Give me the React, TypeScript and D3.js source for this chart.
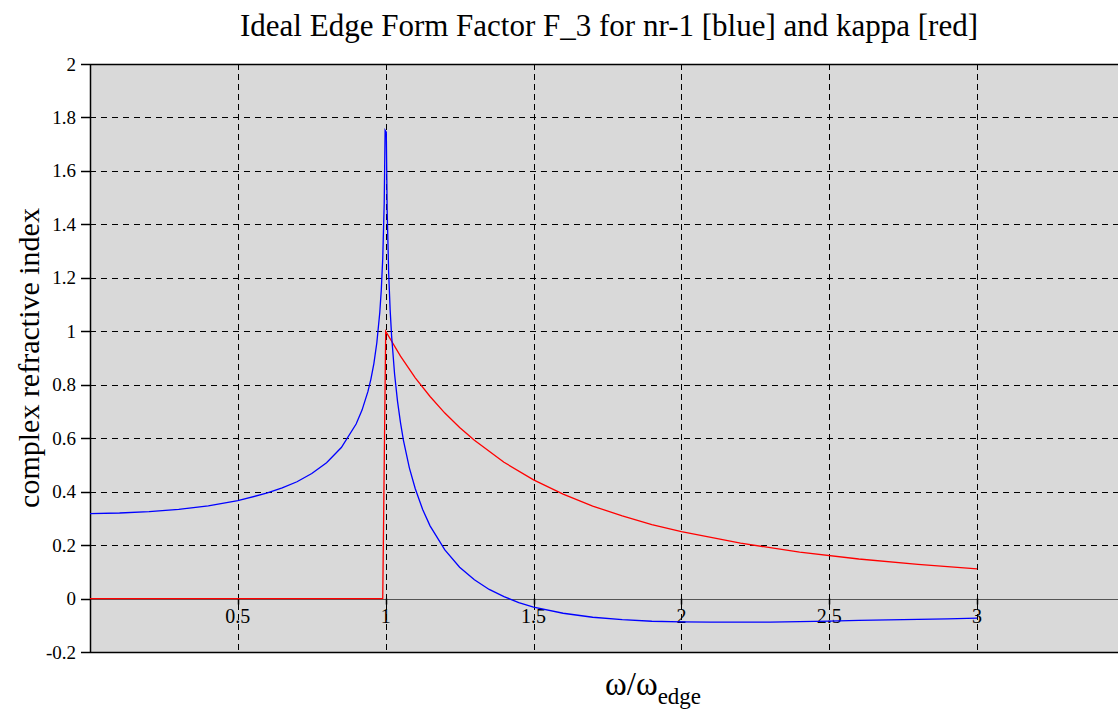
import React from "react";
import * as d3 from "d3";

const title = "Ideal Edge Form Factor F_3 for nr-1 [blue] and kappa [red]";
const yLabel = "complex refractive index";
const xTicks = [0.5, 1, 1.5, 2, 2.5, 3];
const xTickLabels = ["0.5", "1", "1.5", "2", "2.5", "3"];
const yTicks = [-0.2, 0, 0.2, 0.4, 0.6, 0.8, 1, 1.2, 1.4, 1.6, 1.8, 2];
const yTickLabels = ["-0.2", "0", "0.2", "0.4", "0.6", "0.8", "1", "1.2", "1.4", "1.6", "1.8", "2"];

// nr-1 (blue)
const blueX = [0, 0.1, 0.2, 0.3, 0.4, 0.5, 0.6, 0.65, 0.7, 0.75, 0.8, 0.85, 0.9, 0.92, 0.94, 0.95, 0.96, 0.97, 0.98, 0.985, 0.99, 0.995, 0.998,
  1.002, 1.005, 1.01, 1.015, 1.02, 1.03, 1.04, 1.05, 1.06, 1.08, 1.1, 1.125, 1.15, 1.2, 1.25, 1.3, 1.35, 1.4, 1.45, 1.5, 1.6, 1.7, 1.8, 1.9,
  2.0, 2.1, 2.2, 2.3, 2.4, 2.5, 2.6, 2.7, 2.8, 2.9, 3.0];
const blueY = [0.318, 0.320, 0.325, 0.334, 0.347, 0.366, 0.395, 0.414, 0.437, 0.468, 0.508, 0.565, 0.653, 0.705, 0.775, 0.821, 0.879, 0.957, 1.07, 1.153, 1.272, 1.48, 1.752,
  1.745, 1.45, 1.219, 1.081, 0.982, 0.840, 0.738, 0.658, 0.592, 0.489, 0.411, 0.333, 0.272, 0.182, 0.117, 0.070, 0.034, 0.007, -0.015, -0.032, -0.055, -0.070, -0.079, -0.085,
  -0.087, -0.0885, -0.0885, -0.088, -0.086, -0.0845, -0.082, -0.080, -0.078, -0.076, -0.0735];

// kappa (red)
const redX = [0, 0.5, 0.99, 1.0, 1.05, 1.1, 1.15, 1.2, 1.25, 1.3, 1.4, 1.5, 1.6, 1.7, 1.8, 1.9, 2.0, 2.2, 2.4, 2.6, 2.8, 3.0];
const redY = [0, 0, 0, 1.0, 0.907, 0.826, 0.756, 0.694, 0.64, 0.592, 0.510, 0.444, 0.391, 0.346, 0.309, 0.277, 0.25, 0.207, 0.174, 0.148, 0.128, 0.111];

const W = 1118, H = 711;
const L = 90, R = 1118, T = 64, B = 652;
const FONT = '"Liberation Serif", "DejaVu Serif", serif';

export default function App() {
  const x = d3.scaleLinear().domain([0, 3.4765]).range([L, R]);
  const y = d3.scaleLinear().domain([-0.2, 2]).range([B, T]);
  const line = d3.line<[number, number]>().x(d => x(d[0])).y(d => y(d[1]));
  const bluePts = blueX.map((v, i) => [v, blueY[i]] as [number, number]);
  const redPts = redX.map((v, i) => [v, redY[i]] as [number, number]);
  const ts = { fontFamily: FONT };

  return (
    <svg width={W} height={H} style={{ position: "absolute", left: 0, top: 0, background: "#fff", fontFamily: FONT }}>
      <rect x={L} y={T} width={R - L} height={B - T} fill="#d9d9d9" />
      {/* horizontal grid */}
      {yTicks.filter(t => t > -0.2 && t < 2).map(t => (
        <line key={"hg" + t} x1={L} x2={R} y1={Math.round(y(t)) + 0.5} y2={Math.round(y(t)) + 0.5} stroke="#000" strokeDasharray="6,5" strokeWidth={1} />
      ))}
      {/* vertical grid */}
      {xTicks.map(t => (
        <line key={"vg" + t} x1={Math.round(x(t)) + 0.5} x2={Math.round(x(t)) + 0.5} y1={T} y2={B} stroke="#000" strokeDasharray="6,4" strokeWidth={1} />
      ))}
      {/* zero axis */}
      <line x1={L} x2={R} y1={Math.round(y(0)) + 0.5} y2={Math.round(y(0)) + 0.5} stroke="#555" strokeWidth={1} />
      {xTicks.map(t => (
        <line key={"xt" + t} x1={Math.round(x(t)) + 0.5} x2={Math.round(x(t)) + 0.5} y1={y(0)} y2={y(0) + 6} stroke="#000" strokeWidth={1.5} />
      ))}
      {xTicks.map((t, i) => (
        <text key={"xl" + t} x={x(t)} y={y(0) + 24} fontSize={20} textAnchor="middle" fill="#000" style={ts}>{xTickLabels[i]}</text>
      ))}
      {/* frame */}
      <line x1={L} x2={R} y1={T + 0.5} y2={T + 0.5} stroke="#000" strokeWidth={1.5} />
      <line x1={L} x2={R} y1={B + 0.5} y2={B + 0.5} stroke="#000" strokeWidth={1.5} />
      <line x1={L + 0.5} x2={L + 0.5} y1={T} y2={B} stroke="#000" strokeWidth={1.5} />
      {/* y ticks */}
      {yTicks.map((t, i) => (
        <g key={"yt" + t}>
          <line x1={L - 9} x2={L} y1={Math.round(y(t)) + 0.5} y2={Math.round(y(t)) + 0.5} stroke="#000" strokeWidth={1.5} />
          <text x={L - 14} y={y(t) + 6.5} fontSize={19} textAnchor="end" fill="#000" style={ts}>{yTickLabels[i]}</text>
        </g>
      ))}
      {/* curves */}
      <path d={line(redPts) || ""} fill="none" stroke="#ff0000" strokeWidth={1.3} />
      <path d={line(bluePts) || ""} fill="none" stroke="#0000ff" strokeWidth={1.3} />
      {/* title */}
      <text x={240} y={36} fontSize={31} textLength={738} lengthAdjust="spacingAndGlyphs" fill="#000" style={ts}>{title}</text>
      {/* y label */}
      <text transform={`translate(39,358) rotate(-90)`} fontSize={30} textAnchor="middle" fill="#000" style={ts}>{yLabel}</text>
      {/* x label */}
      <text x={605} y={695} fontSize={33} fill="#000" style={ts}>
        ω/ω<tspan fontSize={23} dy={9}>edge</tspan>
      </text>
    </svg>
  );
}
